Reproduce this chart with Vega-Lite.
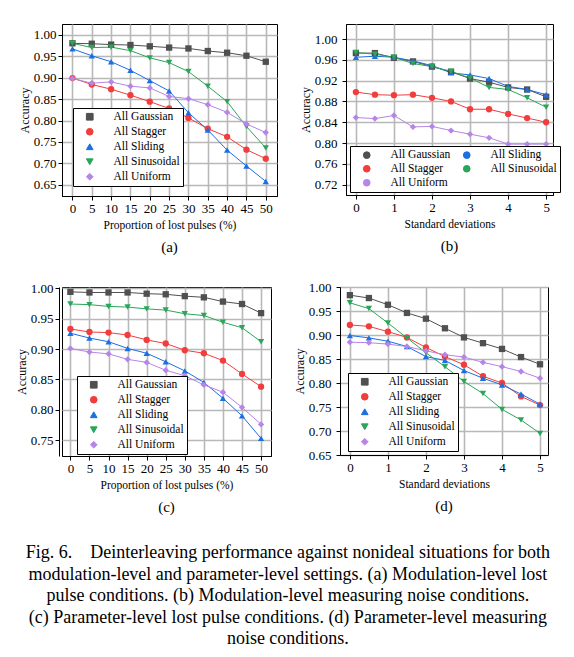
{
  "$schema": "https://vega.github.io/schema/vega-lite/v6.json",
  "padding": {"left": 14, "top": 23, "right": 5, "bottom": 5},
  "background": "white",
  "title": {
    "text": [
      "Fig. 6.\u00a0\u00a0\u00a0 Deinterleaving performance against nonideal situations for both",
      "modulation-level and parameter-level settings. (a) Modulation-level lost",
      "pulse conditions. (b) Modulation-level measuring noise conditions.",
      "(c) Parameter-level lost pulse conditions. (d) Parameter-level measuring",
      "noise conditions."
    ],
    "orient": "bottom", "anchor": "middle", "font": "Liberation Serif", "fontSize": 18,
    "fontWeight": "normal", "color": "black", "lineHeight": 21.5, "offset": 29
  },
  "datasets": {
    "a": [
      {"x": 0, "series": "All Gaussian", "acc": 0.980}, {"x": 5, "series": "All Gaussian", "acc": 0.979}, {"x": 10, "series": "All Gaussian", "acc": 0.977}, {"x": 15, "series": "All Gaussian", "acc": 0.976}, {"x": 20, "series": "All Gaussian", "acc": 0.973}, {"x": 25, "series": "All Gaussian", "acc": 0.970}, {"x": 30, "series": "All Gaussian", "acc": 0.968}, {"x": 35, "series": "All Gaussian", "acc": 0.962}, {"x": 40, "series": "All Gaussian", "acc": 0.958}, {"x": 45, "series": "All Gaussian", "acc": 0.951}, {"x": 50, "series": "All Gaussian", "acc": 0.937},
      {"x": 0, "series": "All Stagger", "acc": 0.899}, {"x": 5, "series": "All Stagger", "acc": 0.884}, {"x": 10, "series": "All Stagger", "acc": 0.873}, {"x": 15, "series": "All Stagger", "acc": 0.859}, {"x": 20, "series": "All Stagger", "acc": 0.844}, {"x": 25, "series": "All Stagger", "acc": 0.828}, {"x": 30, "series": "All Stagger", "acc": 0.806}, {"x": 35, "series": "All Stagger", "acc": 0.781}, {"x": 40, "series": "All Stagger", "acc": 0.762}, {"x": 45, "series": "All Stagger", "acc": 0.732}, {"x": 50, "series": "All Stagger", "acc": 0.711},
      {"x": 0, "series": "All Sliding", "acc": 0.967}, {"x": 5, "series": "All Sliding", "acc": 0.951}, {"x": 10, "series": "All Sliding", "acc": 0.937}, {"x": 15, "series": "All Sliding", "acc": 0.917}, {"x": 20, "series": "All Sliding", "acc": 0.893}, {"x": 25, "series": "All Sliding", "acc": 0.869}, {"x": 30, "series": "All Sliding", "acc": 0.818}, {"x": 35, "series": "All Sliding", "acc": 0.778}, {"x": 40, "series": "All Sliding", "acc": 0.731}, {"x": 45, "series": "All Sliding", "acc": 0.694}, {"x": 50, "series": "All Sliding", "acc": 0.658},
      {"x": 0, "series": "All Sinusoidal", "acc": 0.980}, {"x": 5, "series": "All Sinusoidal", "acc": 0.970}, {"x": 10, "series": "All Sinusoidal", "acc": 0.971}, {"x": 15, "series": "All Sinusoidal", "acc": 0.963}, {"x": 20, "series": "All Sinusoidal", "acc": 0.946}, {"x": 25, "series": "All Sinusoidal", "acc": 0.935}, {"x": 30, "series": "All Sinusoidal", "acc": 0.914}, {"x": 35, "series": "All Sinusoidal", "acc": 0.880}, {"x": 40, "series": "All Sinusoidal", "acc": 0.844}, {"x": 45, "series": "All Sinusoidal", "acc": 0.786}, {"x": 50, "series": "All Sinusoidal", "acc": 0.736},
      {"x": 0, "series": "All Uniform", "acc": 0.898}, {"x": 5, "series": "All Uniform", "acc": 0.887}, {"x": 10, "series": "All Uniform", "acc": 0.890}, {"x": 15, "series": "All Uniform", "acc": 0.880}, {"x": 20, "series": "All Uniform", "acc": 0.876}, {"x": 25, "series": "All Uniform", "acc": 0.856}, {"x": 30, "series": "All Uniform", "acc": 0.851}, {"x": 35, "series": "All Uniform", "acc": 0.837}, {"x": 40, "series": "All Uniform", "acc": 0.819}, {"x": 45, "series": "All Uniform", "acc": 0.792}, {"x": 50, "series": "All Uniform", "acc": 0.772}
    ],
    "b": [
      {"x": 0, "series": "All Gaussian", "acc": 0.973}, {"x": 0.5, "series": "All Gaussian", "acc": 0.973}, {"x": 1, "series": "All Gaussian", "acc": 0.964}, {"x": 1.5, "series": "All Gaussian", "acc": 0.957}, {"x": 2, "series": "All Gaussian", "acc": 0.947}, {"x": 2.5, "series": "All Gaussian", "acc": 0.937}, {"x": 3, "series": "All Gaussian", "acc": 0.924}, {"x": 3.5, "series": "All Gaussian", "acc": 0.917}, {"x": 4, "series": "All Gaussian", "acc": 0.907}, {"x": 4.5, "series": "All Gaussian", "acc": 0.903}, {"x": 5, "series": "All Gaussian", "acc": 0.889},
      {"x": 0, "series": "All Stagger", "acc": 0.898}, {"x": 0.5, "series": "All Stagger", "acc": 0.893}, {"x": 1, "series": "All Stagger", "acc": 0.892}, {"x": 1.5, "series": "All Stagger", "acc": 0.893}, {"x": 2, "series": "All Stagger", "acc": 0.887}, {"x": 2.5, "series": "All Stagger", "acc": 0.880}, {"x": 3, "series": "All Stagger", "acc": 0.865}, {"x": 3.5, "series": "All Stagger", "acc": 0.865}, {"x": 4, "series": "All Stagger", "acc": 0.856}, {"x": 4.5, "series": "All Stagger", "acc": 0.848}, {"x": 5, "series": "All Stagger", "acc": 0.840},
      {"x": 0, "series": "All Sliding", "acc": 0.965}, {"x": 0.5, "series": "All Sliding", "acc": 0.967}, {"x": 1, "series": "All Sliding", "acc": 0.965}, {"x": 1.5, "series": "All Sliding", "acc": 0.958}, {"x": 2, "series": "All Sliding", "acc": 0.949}, {"x": 2.5, "series": "All Sliding", "acc": 0.935}, {"x": 3, "series": "All Sliding", "acc": 0.931}, {"x": 3.5, "series": "All Sliding", "acc": 0.924}, {"x": 4, "series": "All Sliding", "acc": 0.909}, {"x": 4.5, "series": "All Sliding", "acc": 0.903}, {"x": 5, "series": "All Sliding", "acc": 0.893},
      {"x": 0, "series": "All Sinusoidal", "acc": 0.974}, {"x": 0.5, "series": "All Sinusoidal", "acc": 0.971}, {"x": 1, "series": "All Sinusoidal", "acc": 0.965}, {"x": 1.5, "series": "All Sinusoidal", "acc": 0.953}, {"x": 2, "series": "All Sinusoidal", "acc": 0.947}, {"x": 2.5, "series": "All Sinusoidal", "acc": 0.938}, {"x": 3, "series": "All Sinusoidal", "acc": 0.925}, {"x": 3.5, "series": "All Sinusoidal", "acc": 0.907}, {"x": 4, "series": "All Sinusoidal", "acc": 0.903}, {"x": 4.5, "series": "All Sinusoidal", "acc": 0.887}, {"x": 5, "series": "All Sinusoidal", "acc": 0.869},
      {"x": 0, "series": "All Uniform", "acc": 0.849}, {"x": 0.5, "series": "All Uniform", "acc": 0.847}, {"x": 1, "series": "All Uniform", "acc": 0.853}, {"x": 1.5, "series": "All Uniform", "acc": 0.831}, {"x": 2, "series": "All Uniform", "acc": 0.832}, {"x": 2.5, "series": "All Uniform", "acc": 0.824}, {"x": 3, "series": "All Uniform", "acc": 0.817}, {"x": 3.5, "series": "All Uniform", "acc": 0.810}, {"x": 4, "series": "All Uniform", "acc": 0.798}, {"x": 4.5, "series": "All Uniform", "acc": 0.798}, {"x": 5, "series": "All Uniform", "acc": 0.798}
    ],
    "c": [
      {"x": 0, "series": "All Gaussian", "acc": 0.994}, {"x": 5, "series": "All Gaussian", "acc": 0.993}, {"x": 10, "series": "All Gaussian", "acc": 0.993}, {"x": 15, "series": "All Gaussian", "acc": 0.993}, {"x": 20, "series": "All Gaussian", "acc": 0.991}, {"x": 25, "series": "All Gaussian", "acc": 0.990}, {"x": 30, "series": "All Gaussian", "acc": 0.987}, {"x": 35, "series": "All Gaussian", "acc": 0.985}, {"x": 40, "series": "All Gaussian", "acc": 0.978}, {"x": 45, "series": "All Gaussian", "acc": 0.974}, {"x": 50, "series": "All Gaussian", "acc": 0.959},
      {"x": 0, "series": "All Stagger", "acc": 0.933}, {"x": 5, "series": "All Stagger", "acc": 0.928}, {"x": 10, "series": "All Stagger", "acc": 0.927}, {"x": 15, "series": "All Stagger", "acc": 0.923}, {"x": 20, "series": "All Stagger", "acc": 0.915}, {"x": 25, "series": "All Stagger", "acc": 0.909}, {"x": 30, "series": "All Stagger", "acc": 0.898}, {"x": 35, "series": "All Stagger", "acc": 0.893}, {"x": 40, "series": "All Stagger", "acc": 0.881}, {"x": 45, "series": "All Stagger", "acc": 0.859}, {"x": 50, "series": "All Stagger", "acc": 0.838},
      {"x": 0, "series": "All Sliding", "acc": 0.926}, {"x": 5, "series": "All Sliding", "acc": 0.918}, {"x": 10, "series": "All Sliding", "acc": 0.912}, {"x": 15, "series": "All Sliding", "acc": 0.901}, {"x": 20, "series": "All Sliding", "acc": 0.893}, {"x": 25, "series": "All Sliding", "acc": 0.879}, {"x": 30, "series": "All Sliding", "acc": 0.864}, {"x": 35, "series": "All Sliding", "acc": 0.845}, {"x": 40, "series": "All Sliding", "acc": 0.819}, {"x": 45, "series": "All Sliding", "acc": 0.790}, {"x": 50, "series": "All Sliding", "acc": 0.753},
      {"x": 0, "series": "All Sinusoidal", "acc": 0.974}, {"x": 5, "series": "All Sinusoidal", "acc": 0.973}, {"x": 10, "series": "All Sinusoidal", "acc": 0.970}, {"x": 15, "series": "All Sinusoidal", "acc": 0.969}, {"x": 20, "series": "All Sinusoidal", "acc": 0.966}, {"x": 25, "series": "All Sinusoidal", "acc": 0.964}, {"x": 30, "series": "All Sinusoidal", "acc": 0.958}, {"x": 35, "series": "All Sinusoidal", "acc": 0.955}, {"x": 40, "series": "All Sinusoidal", "acc": 0.944}, {"x": 45, "series": "All Sinusoidal", "acc": 0.935}, {"x": 50, "series": "All Sinusoidal", "acc": 0.912},
      {"x": 0, "series": "All Uniform", "acc": 0.901}, {"x": 5, "series": "All Uniform", "acc": 0.895}, {"x": 10, "series": "All Uniform", "acc": 0.892}, {"x": 15, "series": "All Uniform", "acc": 0.883}, {"x": 20, "series": "All Uniform", "acc": 0.878}, {"x": 25, "series": "All Uniform", "acc": 0.865}, {"x": 30, "series": "All Uniform", "acc": 0.856}, {"x": 35, "series": "All Uniform", "acc": 0.841}, {"x": 40, "series": "All Uniform", "acc": 0.829}, {"x": 45, "series": "All Uniform", "acc": 0.804}, {"x": 50, "series": "All Uniform", "acc": 0.776}
    ],
    "d": [
      {"x": 0, "series": "All Gaussian", "acc": 0.983}, {"x": 0.5, "series": "All Gaussian", "acc": 0.977}, {"x": 1, "series": "All Gaussian", "acc": 0.963}, {"x": 1.5, "series": "All Gaussian", "acc": 0.946}, {"x": 2, "series": "All Gaussian", "acc": 0.934}, {"x": 2.5, "series": "All Gaussian", "acc": 0.914}, {"x": 3, "series": "All Gaussian", "acc": 0.895}, {"x": 3.5, "series": "All Gaussian", "acc": 0.883}, {"x": 4, "series": "All Gaussian", "acc": 0.871}, {"x": 4.5, "series": "All Gaussian", "acc": 0.854}, {"x": 5, "series": "All Gaussian", "acc": 0.839},
      {"x": 0, "series": "All Stagger", "acc": 0.921}, {"x": 0.5, "series": "All Stagger", "acc": 0.918}, {"x": 1, "series": "All Stagger", "acc": 0.907}, {"x": 1.5, "series": "All Stagger", "acc": 0.895}, {"x": 2, "series": "All Stagger", "acc": 0.874}, {"x": 2.5, "series": "All Stagger", "acc": 0.855}, {"x": 3, "series": "All Stagger", "acc": 0.838}, {"x": 3.5, "series": "All Stagger", "acc": 0.814}, {"x": 4, "series": "All Stagger", "acc": 0.800}, {"x": 4.5, "series": "All Stagger", "acc": 0.772}, {"x": 5, "series": "All Stagger", "acc": 0.754},
      {"x": 0, "series": "All Sliding", "acc": 0.899}, {"x": 0.5, "series": "All Sliding", "acc": 0.894}, {"x": 1, "series": "All Sliding", "acc": 0.887}, {"x": 1.5, "series": "All Sliding", "acc": 0.876}, {"x": 2, "series": "All Sliding", "acc": 0.855}, {"x": 2.5, "series": "All Sliding", "acc": 0.847}, {"x": 3, "series": "All Sliding", "acc": 0.826}, {"x": 3.5, "series": "All Sliding", "acc": 0.810}, {"x": 4, "series": "All Sliding", "acc": 0.796}, {"x": 4.5, "series": "All Sliding", "acc": 0.777}, {"x": 5, "series": "All Sliding", "acc": 0.756},
      {"x": 0, "series": "All Sinusoidal", "acc": 0.967}, {"x": 0.5, "series": "All Sinusoidal", "acc": 0.955}, {"x": 1, "series": "All Sinusoidal", "acc": 0.925}, {"x": 1.5, "series": "All Sinusoidal", "acc": 0.894}, {"x": 2, "series": "All Sinusoidal", "acc": 0.863}, {"x": 2.5, "series": "All Sinusoidal", "acc": 0.834}, {"x": 3, "series": "All Sinusoidal", "acc": 0.803}, {"x": 3.5, "series": "All Sinusoidal", "acc": 0.778}, {"x": 4, "series": "All Sinusoidal", "acc": 0.745}, {"x": 4.5, "series": "All Sinusoidal", "acc": 0.723}, {"x": 5, "series": "All Sinusoidal", "acc": 0.695},
      {"x": 0, "series": "All Uniform", "acc": 0.885}, {"x": 0.5, "series": "All Uniform", "acc": 0.884}, {"x": 1, "series": "All Uniform", "acc": 0.881}, {"x": 1.5, "series": "All Uniform", "acc": 0.876}, {"x": 2, "series": "All Uniform", "acc": 0.867}, {"x": 2.5, "series": "All Uniform", "acc": 0.859}, {"x": 3, "series": "All Uniform", "acc": 0.854}, {"x": 3.5, "series": "All Uniform", "acc": 0.843}, {"x": 4, "series": "All Uniform", "acc": 0.834}, {"x": 4.5, "series": "All Uniform", "acc": 0.824}, {"x": 5, "series": "All Uniform", "acc": 0.810}
    ]
  },
  "spacing": 25,
  "resolve": {"scale": {"color": "independent", "shape": "independent"}, "legend": {"color": "independent"}},
  "vconcat": [
    {
      "spacing": 20,
      "resolve": {"scale": {"color": "independent", "shape": "independent"}, "legend": {"color": "independent"}},
      "hconcat": [
        {
          "width": 215, "height": 172,
          "data": {"name": "a"},
          "title": {"text": "(a)", "orient": "bottom", "font": "Liberation Serif", "fontSize": 15, "fontWeight": "normal", "color": "black", "offset": 9},
          "encoding": {
            "x": {"field": "x", "type": "quantitative", "scale": {"domain": [-2.7, 52.9], "nice": false, "zero": false}, "axis": {"values": [0, 5, 10, 15, 20, 25, 30, 35, 40, 45, 50], "title": "Proportion of lost pulses (%)"}},
            "y": {"field": "acc", "type": "quantitative", "scale": {"domain": [0.624, 1.025], "nice": false, "zero": false}, "axis": {"values": [0.65, 0.7, 0.75, 0.8, 0.85, 0.9, 0.95, 1.0], "format": ".2f", "title": "Accuracy"}},
            "color": {"field": "series", "type": "nominal",
              "scale": {"domain": ["All Gaussian", "All Stagger", "All Sliding", "All Sinusoidal", "All Uniform"], "range": ["#505050", "#f23d3d", "#1c6fe3", "#2aa658", "#b784e8"]},
              "legend": {"orient": "none", "legendX": 11, "legendY": 84, "title": null, "strokeColor": "black", "fillColor": "white", "padding": 3,
                "labelFont": "Liberation Serif", "labelFontSize": 11.5, "labelColor": "black", "rowPadding": 2, "symbolSize": 45, "symbolOffset": 8, "labelOffset": 18, "symbolStrokeWidth": 1}
            }
          },
          "layer": [
            {"mark": {"type": "line", "strokeWidth": 1}},
            {"mark": {"type": "point", "filled": true, "opacity": 1, "size": 40},
             "encoding": {"shape": {"field": "series", "type": "nominal", "scale": {"domain": ["All Gaussian", "All Stagger", "All Sliding", "All Sinusoidal", "All Uniform"], "range": ["square", "circle", "triangle-up", "triangle-down", "diamond"]}, "legend": null}}}
          ]
        },
        {
          "width": 207, "height": 171,
          "data": {"name": "b"},
          "title": {"text": "(b)", "orient": "bottom", "font": "Liberation Serif", "fontSize": 15, "fontWeight": "normal", "color": "black", "offset": 9},
          "encoding": {
            "x": {"field": "x", "type": "quantitative", "scale": {"domain": [-0.26, 5.18], "nice": false, "zero": false}, "axis": {"values": [0, 1, 2, 3, 4, 5], "title": "Standard deviations"}},
            "y": {"field": "acc", "type": "quantitative", "scale": {"domain": [0.70, 1.029], "nice": false, "zero": false}, "axis": {"values": [0.72, 0.76, 0.8, 0.84, 0.88, 0.92, 0.96, 1.0], "format": ".2f", "title": "Accuracy", "labelPadding": 5}},
            "color": {"field": "series", "type": "nominal",
              "scale": {"domain": ["All Gaussian", "All Stagger", "All Uniform", "All Sliding", "All Sinusoidal"], "range": ["#505050", "#f23d3d", "#b784e8", "#1c6fe3", "#2aa658"]},
              "legend": {"orient": "none", "legendX": 4, "legendY": 122, "title": null, "strokeColor": "black", "fillColor": "white", "padding": 3, "columns": 2, "columnPadding": 2,
                "labelFont": "Liberation Serif", "labelFontSize": 11.5, "labelColor": "black", "rowPadding": 1, "symbolSize": 45, "symbolOffset": 8, "labelOffset": 18, "symbolStrokeWidth": 1}
            }
          },
          "layer": [
            {"mark": {"type": "line", "strokeWidth": 1}},
            {"mark": {"type": "point", "filled": true, "opacity": 1, "size": 40},
             "encoding": {"shape": {"field": "series", "type": "nominal", "scale": {"domain": ["All Gaussian", "All Stagger", "All Sliding", "All Sinusoidal", "All Uniform"], "range": ["square", "circle", "triangle-up", "triangle-down", "diamond"]}, "legend": null}}}
          ]
        }
      ]
    },
    {
      "spacing": 20,
      "resolve": {"scale": {"color": "independent", "shape": "independent"}, "legend": {"color": "independent"}},
      "hconcat": [
        {
          "width": 209, "height": 169,
          "data": {"name": "c"},
          "title": {"text": "(c)", "orient": "bottom", "font": "Liberation Serif", "fontSize": 15, "fontWeight": "normal", "color": "black", "offset": 9},
          "encoding": {
            "x": {"field": "x", "type": "quantitative", "scale": {"domain": [-2.2, 52.6], "nice": false, "zero": false}, "axis": {"values": [0, 5, 10, 15, 20, 25, 30, 35, 40, 45, 50], "title": "Proportion of lost pulses (%)"}},
            "y": {"field": "acc", "type": "quantitative", "scale": {"domain": [0.724, 1.002], "nice": false, "zero": false}, "axis": {"values": [0.75, 0.8, 0.85, 0.9, 0.95, 1.0], "format": ".2f", "title": "Accuracy", "offset": 3}},
            "color": {"field": "series", "type": "nominal",
              "scale": {"domain": ["All Gaussian", "All Stagger", "All Sliding", "All Sinusoidal", "All Uniform"], "range": ["#505050", "#f23d3d", "#1c6fe3", "#2aa658", "#b784e8"]},
              "legend": {"orient": "none", "legendX": 15, "legendY": 89, "title": null, "strokeColor": "black", "fillColor": "white", "padding": 3,
                "labelFont": "Liberation Serif", "labelFontSize": 11.5, "labelColor": "black", "rowPadding": 2, "symbolSize": 45, "symbolOffset": 8, "labelOffset": 18, "symbolStrokeWidth": 1}
            }
          },
          "layer": [
            {"mark": {"type": "line", "strokeWidth": 1}},
            {"mark": {"type": "point", "filled": true, "opacity": 1, "size": 40},
             "encoding": {"shape": {"field": "series", "type": "nominal", "scale": {"domain": ["All Gaussian", "All Stagger", "All Sliding", "All Sinusoidal", "All Uniform"], "range": ["square", "circle", "triangle-up", "triangle-down", "diamond"]}, "legend": null}}}
          ]
        },
        {
          "width": 208, "height": 168,
          "data": {"name": "d"},
          "title": {"text": "(d)", "orient": "bottom", "font": "Liberation Serif", "fontSize": 15, "fontWeight": "normal", "color": "black", "offset": 9},
          "encoding": {
            "x": {"field": "x", "type": "quantitative", "scale": {"domain": [-0.26, 5.21], "nice": false, "zero": false}, "axis": {"values": [0, 1, 2, 3, 4, 5], "title": "Standard deviations"}},
            "y": {"field": "acc", "type": "quantitative", "scale": {"domain": [0.65, 1.0], "nice": false, "zero": false}, "axis": {"values": [0.65, 0.7, 0.75, 0.8, 0.85, 0.9, 0.95, 1.0], "format": ".2f", "title": "Accuracy", "labelPadding": 5}},
            "color": {"field": "series", "type": "nominal",
              "scale": {"domain": ["All Gaussian", "All Stagger", "All Sliding", "All Sinusoidal", "All Uniform"], "range": ["#505050", "#f23d3d", "#1c6fe3", "#2aa658", "#b784e8"]},
              "legend": {"orient": "none", "legendX": 8, "legendY": 86, "title": null, "strokeColor": "black", "fillColor": "white", "padding": 3,
                "labelFont": "Liberation Serif", "labelFontSize": 11.5, "labelColor": "black", "rowPadding": 2, "symbolSize": 45, "symbolOffset": 8, "labelOffset": 18, "symbolStrokeWidth": 1}
            }
          },
          "layer": [
            {"mark": {"type": "line", "strokeWidth": 1}},
            {"mark": {"type": "point", "filled": true, "opacity": 1, "size": 40},
             "encoding": {"shape": {"field": "series", "type": "nominal", "scale": {"domain": ["All Gaussian", "All Stagger", "All Sliding", "All Sinusoidal", "All Uniform"], "range": ["square", "circle", "triangle-up", "triangle-down", "diamond"]}, "legend": null}}}
          ]
        }
      ]
    }
  ],
  "config": {
    "font": "Liberation Serif",
    "view": {"stroke": "black", "strokeWidth": 1},
    "axis": {
      "labelFont": "Liberation Serif", "labelFontSize": 13, "labelColor": "black",
      "titleFont": "Liberation Serif", "titleFontSize": 11.5, "titleFontWeight": "normal", "titleColor": "black",
      "gridColor": "#b8b8b8", "gridWidth": 1.6, "tickColor": "black", "tickSize": 4,
      "domainColor": "black", "labelPadding": 2, "titlePadding": 4
    },
    "axisY": {"titleFontSize": 12, "titlePadding": 2}
  }
}
